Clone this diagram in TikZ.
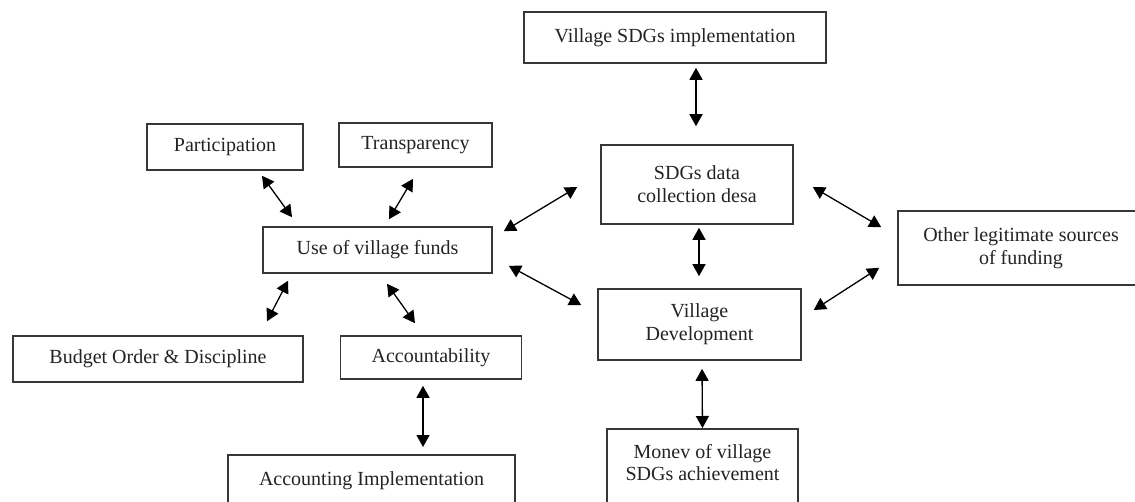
\documentclass[tikz,border=0pt]{standalone}
\usepackage{fontspec}
\setmainfont{Liberation Serif}
\usetikzlibrary{arrows.meta,calc}
\definecolor{boxline}{RGB}{55,55,55}
\definecolor{txt}{RGB}{35,35,35}
\tikzset{
  box/.style={draw=boxline, line width=1.6pt, rectangle, inner sep=0pt, text=txt, align=center,
    font=\fontsize{20}{23}\selectfont},
  cutbox/.style={draw=boxline, line width=1.6pt, rectangle, inner xsep=0pt, inner ysep=0pt, text=txt,
    font=\fontsize{20}{23}\selectfont, anchor=north, text depth=120pt},
  arr/.style={draw=black, line width=1.3pt, {Triangle[length=12pt,width=13pt]}-{Triangle[length=12pt,width=13pt]}}
}
\begin{document}
\begin{tikzpicture}[x=1pt,y=-1pt]
\clip (0,0) rectangle (1135,501);
\fill[white] (0,0) rectangle (1135,501);
% nodes
\node[box, minimum width=302, minimum height=51] (impl) at (675,37.5) {Village SDGs implementation};
\node[box, minimum width=156, minimum height=46] (part) at (225,147) {Participation};
\node[box, minimum width=153, minimum height=44] (trans) at (415.5,145) {Transparency};
\node[box, minimum width=229, minimum height=46] (uvf) at (377.5,250) {Use of village funds};
\node[box, minimum width=192, minimum height=79] (data) at (697,184.5) {SDGs data\\collection desa};
\node[box, minimum width=203, minimum height=71] (vd) at (699.5,324.5) {Village\\Development};
\node[box, minimum width=246, minimum height=74] (other) at (1021,248) {Other legitimate sources\\of funding};
\node[box, minimum width=290, minimum height=46] (budget) at (158,359) {Budget Order \& Discipline};
\node[box, minimum width=181, minimum height=43] (acc) at (431,357.5) {Accountability};
\node[cutbox, minimum width=191, text height=30pt] (monev) at (702.5,428)
  {\begin{tabular}[t]{@{}c@{}}Monev of village\\[-1pt]SDGs achievement\end{tabular}};
\node[cutbox, minimum width=287, text height=31pt] (accimpl) at (371.5,454) {Accounting Implementation};
% connectors
\draw[arr] ($(impl.south)+(21,4)$) -- ($(data.north)+(-1,-18)$);
\draw[arr] ($(part.south)+(37,5)$) -- ($(uvf.north)+(-85.5,-9)$);
\draw[arr] ($(trans.south)+(-2.5,11)$) -- ($(uvf.north)+(11.5,-7)$);
\draw[arr] ($(uvf.north east)+(11,5)$) -- ($(data.west)+(-23,2.5)$);
\draw[arr] ($(uvf.south east)+(16,-8)$) -- ($(vd.west)+(-16,-19.5)$);
\draw[arr] ($(data.east)+(19,2.5)$) -- ($(other.north west)+(-16,17)$);
\draw[arr] ($(vd.east)+(12,-14.5)$) -- ($(other.south west)+(-18,-18)$);
\draw[arr] ($(data.south)+(2,3)$) -- ($(vd.north)+(-0.5,-12)$);
\draw[arr] ($(vd.south)+(2.5,8)$) -- (monev.north);
\draw[arr] ($(uvf.south)+(-89.5,7)$) -- ($(budget.north)+(109,-14)$);
\draw[arr] ($(uvf.south)+(9.5,10)$) -- ($(acc.north)+(-16,-12)$);
\draw[arr] ($(acc.south)+(-8,6)$) -- ($(accimpl.north)+(51.5,-7)$);
\end{tikzpicture}
\end{document}
